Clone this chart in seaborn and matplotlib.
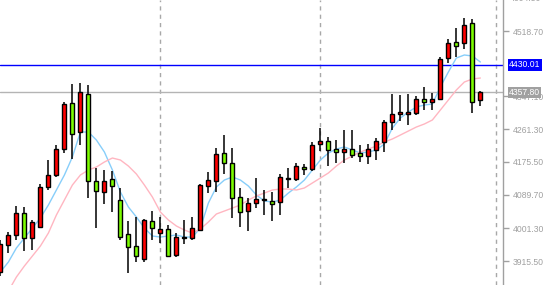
import numpy as np
import matplotlib
matplotlib.use("Agg")
import matplotlib.pyplot as plt
import matplotlib.transforms as mtransforms
import seaborn as sns

opens = [3886.7, 3956.7, 3982.9, 4040.6, 3975.0, 4003.9, 4108.8, 4141.8, 4208.4, 4329.1,
         4254.6, 4352.7, 4125.3, 4097.2, 4130.6, 4075.5, 3985.5, 3954.8, 3920.0, 4020.4,
         3988.1, 3998.6, 3931.2, 3976.0, 3975.0, 3996.8, 4113.0, 4126.1, 4198.0, 4171.7,
         4082.6, 4047.4, 4066.8, 4075.5, 4073.6, 4069.4, 4131.0, 4131.3, 4162.8, 4156.8,
         4221.6, 4231.5, 4209.2, 4202.2, 4209.2, 4198.0, 4190.9, 4206.6, 4228.4, 4280.8,
         4300.2, 4301.8, 4302.9, 4339.6, 4331.7, 4340.4, 4447.1, 4489.1, 4486.4, 4538.9,
         4337.7]
closes = [3960.1, 3982.9, 4040.6, 3975.0, 4017.0, 4108.8, 4140.3, 4208.4, 4326.5, 4247.8,
          4357.9, 4125.3, 4099.1, 4125.3, 4112.2, 3979.2, 3951.4, 3928.6, 4023.0, 4001.3,
          3999.4, 3929.4, 3979.2, 3979.0, 4001.3, 4114.8, 4127.9, 4196.1, 4171.7, 4081.5,
          4043.2, 4066.8, 4077.3, 4078.9, 4064.2, 4135.0, 4134.0, 4164.6, 4156.0, 4219.7,
          4231.0, 4205.8, 4202.2, 4209.2, 4193.5, 4190.9, 4209.2, 4230.2, 4279.3, 4300.2,
          4305.5, 4305.5, 4339.6, 4331.7, 4339.6, 4444.5, 4486.4, 4480.1, 4534.4, 4331.7,
          4357.8]
highs = [3970.6, 3990.8, 4059.7, 4057.9, 4023.0, 4117.4, 4180.4, 4218.9, 4332.5, 4379.7,
         4383.1, 4377.1, 4159.4, 4154.2, 4152.3, 4106.2, 4020.4, 4030.1, 4025.7, 4046.6,
         4030.1, 4009.9, 3988.9, 4023.0, 4030.9, 4117.4, 4149.7, 4211.1, 4245.9, 4211.1,
         4106.2, 4079.9, 4132.4, 4101.7, 4097.2, 4143.7, 4158.6, 4173.3, 4169.9, 4228.4,
         4263.5, 4241.5, 4232.8, 4259.1, 4259.1, 4219.7, 4221.6, 4237.3, 4285.3, 4352.7,
         4350.9, 4352.7, 4348.2, 4372.6, 4356.9, 4449.7, 4496.9, 4525.8, 4552.0, 4549.4,
         4362.1]
lows = [3876.2, 3937.3, 3970.6, 3942.5, 3944.3, 4002.0, 4101.7, 4136.6, 4199.5, 4183.8,
        4219.7, 4079.9, 4002.8, 4064.2, 4043.2, 3970.6, 3884.8, 3913.7, 3913.7, 3970.6,
        3961.9, 3926.8, 3926.8, 3960.1, 3970.6, 3994.2, 4094.6, 4097.2, 4143.7, 4029.1,
        4005.5, 3995.0, 4053.7, 4036.1, 4021.2, 4036.1, 4106.2, 4126.1, 4141.0, 4152.3,
        4204.8, 4163.9, 4171.7, 4173.3, 4184.8, 4175.9, 4169.1, 4180.4, 4202.2, 4259.1,
        4283.5, 4272.2, 4298.4, 4311.5, 4311.5, 4339.6, 4434.0, 4451.3, 4470.7, 4302.9,
        4322.0]
ma_fast = [3886.7, 3912.9, 3949.6, 3975.8, 4002.0, 4028.3, 4062.4, 4101.7, 4141.0, 4188.3,
           4253.8, 4253.8, 4232.8, 4201.4, 4154.2, 4096.5, 4057.1, 4030.9, 4002.0, 3981.1,
           3978.4, 3981.1, 3983.7, 3978.4, 3978.4, 4002.0, 4067.6, 4109.6, 4127.9, 4135.8,
           4127.9, 4112.2, 4088.6, 4072.9, 4070.2, 4075.5, 4093.8, 4109.6, 4127.9, 4154.2,
           4180.4, 4198.7, 4209.2, 4214.5, 4206.6, 4198.7, 4201.4, 4206.6, 4222.3, 4264.3,
           4290.5, 4306.3, 4319.4, 4324.6, 4327.2, 4371.8, 4411.2, 4447.9, 4455.8, 4453.1,
           4437.4]
ma_slow = [3808.0, 3836.8, 3873.5, 3902.4, 3928.6, 3954.8, 3988.9, 4036.1, 4075.5, 4114.8,
           4141.0, 4154.2, 4162.0, 4175.1, 4185.6, 4180.4, 4164.6, 4143.7, 4114.8, 4083.3,
           4044.0, 4023.0, 4007.3, 3996.8, 3988.9, 3999.4, 4017.8, 4038.8, 4046.6, 4054.5,
           4062.4, 4075.5, 4086.0, 4093.8, 4101.7, 4104.3, 4104.3, 4101.7, 4107.0, 4120.1,
           4133.2, 4146.3, 4164.6, 4180.4, 4190.9, 4201.4, 4209.2, 4217.1, 4227.6, 4235.5,
           4245.9, 4256.4, 4266.9, 4274.8, 4285.3, 4311.5, 4337.7, 4364.0, 4384.9, 4392.8,
           4395.4]
ytick_values = [3915.50, 4001.30, 4089.70, 4175.50, 4261.30, 4347.10, 4518.70]
top_tick = 4604.50
level_price = 4430.01
last_price = 4357.80
vgrid_bars = [20, 40, 62]

sns.set_style("white")
plt.rcParams['font.family'] = ['Liberation Sans', 'DejaVu Sans']

fig = plt.figure(figsize=(5.45, 2.85), dpi=100)
ax = fig.add_axes([0, 0, 503 / 545, 1])

o = np.array(opens); c = np.array(closes)
h = np.array(highs); l = np.array(lows)
idx = np.arange(len(o))
bull = c >= o
colors = np.where(bull, '#ff0000', '#7cfc00')

for g in vgrid_bars:
    ax.axvline(g, color='#a8a8a8', lw=1, ls=(0, (3, 3)), zorder=0.5)
ax.axhline(level_price, color='#0000ff', lw=1, zorder=0.8)
ax.axhline(last_price, color='#b4b4b4', lw=1, zorder=0.8)

sns.lineplot(x=idx, y=np.array(ma_fast), color='#87cefa', lw=1, ax=ax, zorder=1)
sns.lineplot(x=idx, y=np.array(ma_slow), color='#ffb6c1', lw=1, ax=ax, zorder=1)

ax.vlines(idx, l, h, color='black', lw=1.1, zorder=2)
ax.bar(idx, np.abs(c - o), bottom=np.minimum(o, c), width=0.48, color=colors,
       edgecolor='black', linewidth=1.0, zorder=3)

ax.set_xlim(-0.05, 62.83)
ax.set_ylim(3852.6, 4600.0)
ax.set_xticks([])
ax.yaxis.tick_right()
ax.set_yticks(ytick_values)
ax.set_yticklabels([f"{v:.2f}" for v in ytick_values])
ax.tick_params(axis='y', right=True, length=4, width=1, color='#a0a0a0',
               labelcolor='#a0a0a0', labelsize=6.2, pad=3)
for side in ['left', 'top', 'bottom']:
    ax.spines[side].set_visible(False)
ax.spines['right'].set_color('#a0a0a0')
ax.spines['right'].set_linewidth(1)
ax.set_xlabel(''); ax.set_ylabel('')

trans = mtransforms.blended_transform_factory(fig.transFigure, ax.transData)
ax.text(510 / 545, top_tick, f"{top_tick:.2f}", transform=trans, color='#a0a0a0',
        fontsize=6.2, va='center', ha='left', clip_on=False)
ax.text(509 / 545, level_price, f"{level_price:.2f}", transform=trans, color='white',
        fontsize=6.2, va='center', ha='left', clip_on=False, zorder=10,
        bbox=dict(boxstyle='square,pad=0.15', fc='#0000ff', ec='none'))
ax.text(509 / 545, last_price, f"{last_price:.2f}", transform=trans, color='white',
        fontsize=6.2, va='center', ha='left', clip_on=False, zorder=10,
        bbox=dict(boxstyle='square,pad=0.15', fc='#a0a0a0', ec='none'))

fig.savefig('out.png', dpi=100)
